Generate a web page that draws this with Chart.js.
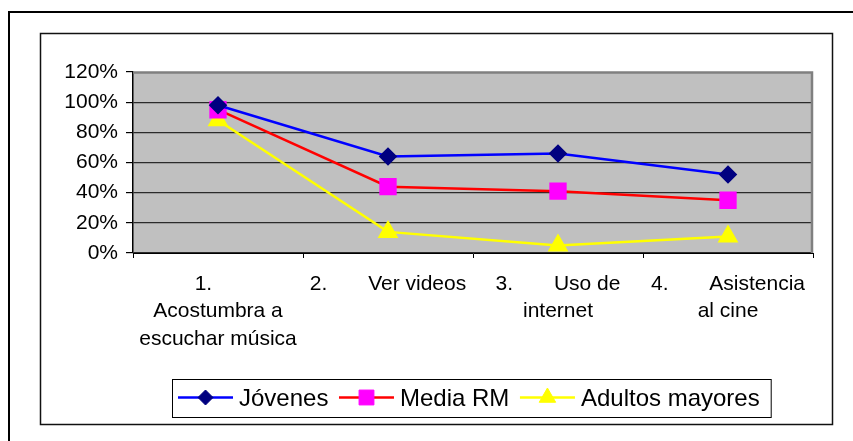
<!DOCTYPE html>
<html>
<head>
<meta charset="utf-8">
<script src="https://cdn.jsdelivr.net/npm/chart.js@4.4.0/dist/chart.umd.min.js"></script>
<style>
  html, body { margin: 0; padding: 0; background: #fff; }
  #wrap { width: 853px; height: 441px; }
</style>
</head>
<body>
<div id="wrap"><canvas id="chart" width="853" height="441"></canvas></div>
<script>
// data
const categories = ['1. Acostumbra a escuchar música', '2. Ver videos', '3. Uso de internet', '4. Asistencia al cine'];
// wrapped the way the sheet wraps them (number, tab gap, text)
const tickLabels = [
  ['1.     ', 'Acostumbra a', 'escuchar música'],
  ['2.       Ver videos'],
  ['3.       Uso de', 'internet'],
  ['4.       Asistencia', 'al cine']
];
const jovenes = [0.98, 0.64, 0.66, 0.52];
const mediaRM = [0.95, 0.44, 0.41, 0.35];
const adultosMayores = [0.88, 0.14, 0.05, 0.11];
const yMax = 1.2;
const yStep = 0.2;

const FONT = '"Liberation Sans", Arial, sans-serif';

// frames, grey plot background
const frame = {
  id: 'frame',
  beforeDraw(chart) {
    const ctx = chart.ctx, a = chart.chartArea;
    ctx.save();
    ctx.fillStyle = '#fff';
    ctx.fillRect(0, 0, chart.width, chart.height);
    ctx.strokeStyle = '#000';
    ctx.lineWidth = 2;
    ctx.beginPath();
    ctx.moveTo(9, chart.height + 5);
    ctx.lineTo(9, 12);
    ctx.lineTo(chart.width + 5, 12);
    ctx.stroke();
    ctx.lineWidth = 1.5;
    ctx.strokeStyle = '#111';
    ctx.strokeRect(40.5, 33.5, 792, 391);
    ctx.fillStyle = '#c0c0c0';
    ctx.fillRect(a.left, a.top, a.right - a.left, a.bottom - a.top);
    ctx.restore();
  },
  beforeDatasetsDraw(chart) {
    const ctx = chart.ctx, a = chart.chartArea;
    ctx.save();
    ctx.strokeStyle = '#808080';
    ctx.lineWidth = 2.5;
    ctx.beginPath();
    ctx.moveTo(a.left, a.top + 0.5);
    ctx.lineTo(a.right - 1, a.top + 0.5);
    ctx.lineTo(a.right - 1, a.bottom);
    ctx.stroke();
    ctx.restore();
  }
};

// boxed legend: line + marker, then the label
const legendBox = {
  id: 'legendBox',
  afterDraw(chart) {
    const ctx = chart.ctx;
    const sets = chart.data.datasets;
    const left = 172, top = 379, h = 38, cy = 397.5;
    const lineLen = 55, pad = 6, gap = 10.6;
    ctx.save();
    ctx.font = '24px ' + FONT;
    const widths = sets.map(ds => ctx.measureText(ds.label).width);
    let total = pad;
    widths.forEach((w, i) => { total += lineLen + 6 + w + (i < sets.length - 1 ? gap : 0); });
    total += 11;
    ctx.fillStyle = '#fff';
    ctx.fillRect(left, top, total, h);
    ctx.strokeStyle = '#000';
    ctx.lineWidth = 1;
    ctx.strokeRect(left + 0.5, top + 0.5, total, h);

    let x = left + pad;
    sets.forEach((ds, i) => {
      ctx.strokeStyle = ds.borderColor;
      ctx.lineWidth = ds.borderWidth;
      ctx.beginPath();
      ctx.moveTo(x, cy);
      ctx.lineTo(x + lineLen, cy);
      ctx.stroke();
      ctx.fillStyle = ds.pointBackgroundColor;
      ctx.strokeStyle = ds.pointBorderColor;
      ctx.lineWidth = 1;
      Chart.helpers.drawPoint(ctx, {
        pointStyle: ds.pointStyle, radius: ds.pointRadius, borderWidth: 1, rotation: 0
      }, x + lineLen / 2, cy);
      ctx.fillStyle = '#000';
      ctx.textBaseline = 'alphabetic';
      ctx.fillText(ds.label, x + lineLen + 6, 405.5);
      x += lineLen + 6 + widths[i] + gap;
    });
    ctx.restore();
  }
};

new Chart(document.getElementById('chart'), {
  type: 'line',
  data: {
    labels: tickLabels,
    datasets: [
      {
        label: 'Jóvenes', data: jovenes,
        borderColor: '#0000ff', borderWidth: 2.5,
        pointStyle: 'rectRot', pointRadius: 7.5,
        pointBackgroundColor: '#000080', pointBorderColor: '#000080'
      },
      {
        label: 'Media RM', data: mediaRM,
        borderColor: '#ff0000', borderWidth: 2.5,
        pointStyle: 'rect', pointRadius: 10.5,
        pointBackgroundColor: '#ff00ff', pointBorderColor: '#ff00ff'
      },
      {
        label: 'Adultos mayores', data: adultosMayores,
        borderColor: '#ffff00', borderWidth: 2.5,
        pointStyle: 'triangle', pointRadius: 9.5,
        pointBackgroundColor: '#ffff00', pointBorderColor: '#ffff00'
      }
    ]
  },
  options: {
    responsive: false,
    animation: false,
    devicePixelRatio: 1,
    layout: { padding: { left: 40, top: 72, right: 40, bottom: 88 } },
    elements: { line: { tension: 0 }, point: { borderWidth: 1 } },
    plugins: { legend: { display: false }, tooltip: { enabled: false } },
    scales: {
      x: {
        offset: true,
        grid: { offset: true, drawOnChartArea: false, drawTicks: true, tickLength: 5, color: '#000', lineWidth: 1 },
        border: { display: true, color: '#000', width: 1 },
        ticks: {
          color: '#000', padding: 12, maxRotation: 0, autoSkip: false,
          font: { family: FONT, size: 21, lineHeight: 1.32 }
        },
        afterFit(scale) { scale.height = 100; }
      },
      y: {
        min: 0, max: yMax,
        grid: {
          color: c => (c.tick && c.tick.value > yMax - 0.01) ? 'rgba(0,0,0,0)' : '#2a2a2a',
          tickColor: '#000', tickLength: 7, lineWidth: 1.2
        },
        border: { display: true, color: '#000', width: 1.5 },
        ticks: {
          stepSize: yStep, color: '#000', padding: 8,
          font: { family: FONT, size: 21 },
          callback: v => Math.round(v * 100) + '%'
        },
        afterFit(scale) { scale.width = 93; }
      }
    }
  },
  plugins: [frame, legendBox]
});
</script>
</body>
</html>
